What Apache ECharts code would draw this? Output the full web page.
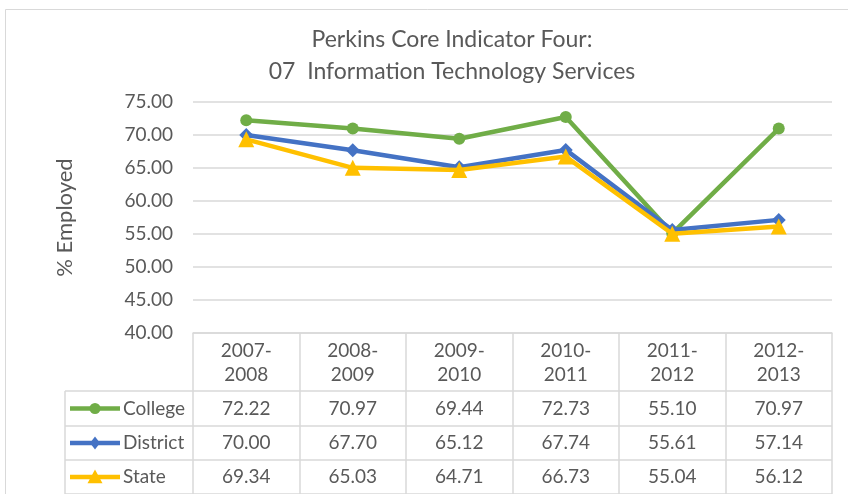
<!DOCTYPE html>
<html><head><meta charset="utf-8">
<script src="https://cdn.jsdelivr.net/npm/echarts@6/dist/echarts.min.js"></script>
<style>html,body{margin:0;padding:0;background:#fff}#c{width:848px;height:494px}</style>
</head><body><div id="c"></div>
<script>
const categories = ['2007-2008','2008-2009','2009-2010','2010-2011','2011-2012','2012-2013'];
const seriesNames = ['College','District','State'];
const college = [72.22, 70.97, 69.44, 72.73, 55.10, 70.97];
const district = [70.00, 67.70, 65.12, 67.74, 55.61, 57.14];
const state = [69.34, 65.03, 64.71, 66.73, 55.04, 56.12];
const yMin = 40, yMax = 75, yStep = 5;
const titleLines = ['Perkins Core Indicator Four:', '07  Information Technology Services'];
const yName = '% Employed';

const colors = ['#70AD47', '#4472C4', '#FFC000'];
const symbols = ['circle', 'diamond', 'triangle'];
const symbolSizes = [12, 14, 16];
const values = [college, district, state];
const FONT = 'Lato';
const TXT = '#595959';
const GRID = '#D9D9D9';

const chart = echarts.init(document.getElementById('c'), null, {renderer: 'canvas'});
const gridLeft = 193, gridRight = 16, gridTop = 102, gridBottom = 161;

const option = {
  backgroundColor: '#fff',
  animation: false,
  textStyle: {fontFamily: FONT},
  title: {
    text: titleLines.join('\n'),
    left: 447, top: 19, textAlign: 'center',
    textStyle: {fontFamily: FONT, fontSize: 23, fontWeight: 'normal', color: TXT, lineHeight: 32}
  },
  grid: {left: gridLeft, right: gridRight, top: gridTop, bottom: gridBottom, containLabel: false},
  xAxis: {
    type: 'category', data: categories, boundaryGap: true,
    axisLine: {show: true, lineStyle: {color: GRID, width: 1.5}},
    axisTick: {show: true, length: 161, lineStyle: {color: GRID, width: 1.5}},
    axisLabel: {
      formatter: v => v.replace('-', '-\n'), fontSize: 19, color: TXT, lineHeight: 24, margin: 6, fontFamily: FONT
    }
  },
  yAxis: {
    type: 'value', min: yMin, max: yMax, interval: yStep,
    name: yName, nameLocation: 'middle', nameRotate: 90, nameGap: 117,
    nameTextStyle: {fontSize: 22, color: TXT, fontFamily: FONT},
    axisLine: {show: false}, axisTick: {show: false},
    axisLabel: {formatter: v => v.toFixed(2), fontSize: 19, color: TXT, margin: 20, fontFamily: FONT},
    splitLine: {lineStyle: {color: GRID, width: 1.5}}
  },
  series: seriesNames.map((n, i) => ({
    name: n, type: 'line', data: values[i],
    symbol: symbols[i], symbolSize: symbolSizes[i],
    lineStyle: {color: colors[i], width: 4.5},
    itemStyle: {color: colors[i]},
    z: 2 + i
  }))
};
chart.setOption(option);

// data table below the plot
const rowTops = [391, 426, 460, 494];
const tableLeft = 65;
const xRight = 848 - gridRight;
const g = [];
g.push({type: 'rect', shape: {x: 5.5, y: 9.5, width: 1000, height: 1000}, style: {fill: null, stroke: GRID, lineWidth: 1}, silent: true});
rowTops.forEach(y => {
  g.push({type: 'line', shape: {x1: tableLeft, y1: y, x2: xRight, y2: y}, style: {stroke: GRID, lineWidth: 1.5}});
});
g.push({type: 'line', shape: {x1: tableLeft, y1: rowTops[0], x2: tableLeft, y2: 494}, style: {stroke: GRID, lineWidth: 1.5}});
seriesNames.forEach((n, r) => {
  const yc = (rowTops[r] + rowTops[r + 1]) / 2;
  g.push({type: 'line', shape: {x1: 70, y1: yc, x2: 120, y2: yc}, style: {stroke: colors[r], lineWidth: 4.5}});
  const s = symbolSizes[r] - 1;
  if (r === 0) g.push({type: 'circle', shape: {cx: 95, cy: yc, r: s / 2}, style: {fill: colors[r]}});
  else if (r === 1) g.push({type: 'polygon', shape: {points: [[95, yc - s / 2], [95 + s / 2.6, yc], [95, yc + s / 2], [95 - s / 2.6, yc]]}, style: {fill: colors[r]}});
  else g.push({type: 'polygon', shape: {points: [[95, yc - s / 2], [95 + s / 2, yc + s / 2.4], [95 - s / 2, yc + s / 2.4]]}, style: {fill: colors[r]}});
  g.push({type: 'text', x: 123, y: yc, style: {text: n, fontSize: 19, fontFamily: FONT, fill: TXT, align: 'left', verticalAlign: 'middle'}});
  values[r].forEach((v, c) => {
    const xc = chart.convertToPixel({xAxisIndex: 0}, c);
    g.push({type: 'text', x: xc, y: yc, style: {text: v.toFixed(2), fontSize: 19, fontFamily: FONT, fill: TXT, align: 'center', verticalAlign: 'middle'}});
  });
});
chart.setOption({graphic: g});
</script></body></html>
